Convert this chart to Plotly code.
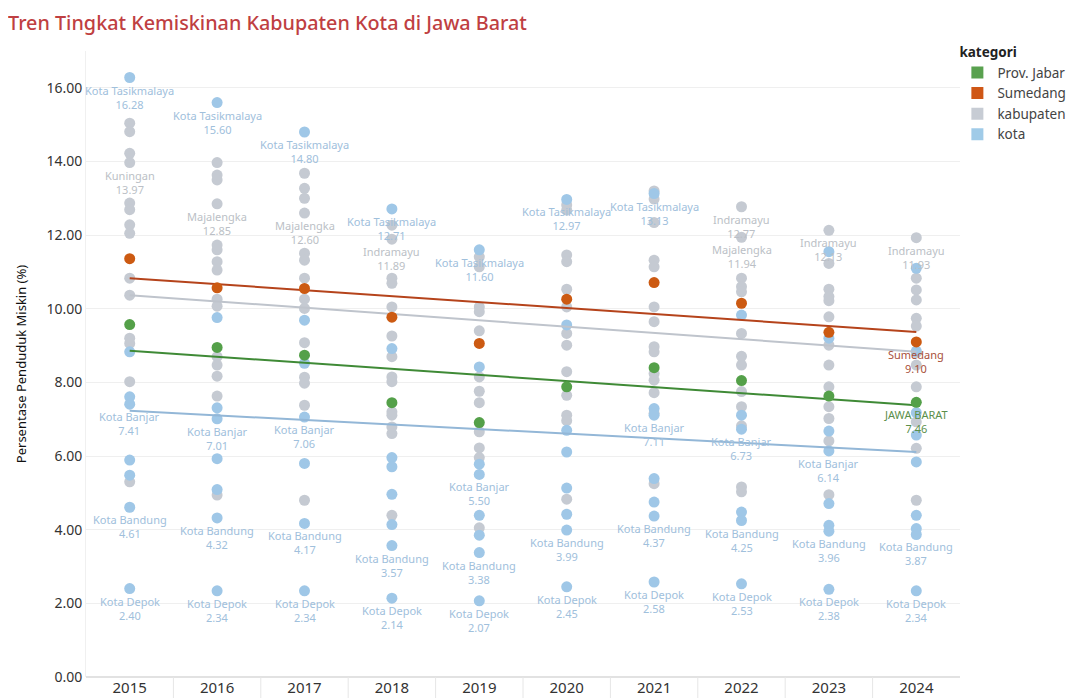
import plotly.graph_objects as go

# ---------------- data ----------------
years = [2015, 2016, 2017, 2018, 2019, 2020, 2021, 2022, 2023, 2024]

kabupaten_values = [
    [15.04, 14.81, 14.22, 13.97, 12.87, 12.69, 12.28, 12.05, 10.83, 10.37, 9.20, 9.06, 8.02, 5.30],
    [13.97, 13.63, 13.50, 12.85, 11.73, 11.60, 11.28, 11.05, 10.26, 10.07, 8.70, 8.47, 8.17, 7.63, 4.94],
    [13.68, 13.27, 13.00, 12.60, 11.51, 11.32, 10.83, 10.26, 10.01, 9.08, 8.14, 7.98, 7.38, 4.80],
    [12.27, 11.89, 10.83, 10.69, 10.05, 9.26, 8.70, 8.15, 8.02, 7.20, 7.11, 6.79, 6.61, 4.39],
    [11.41, 11.14, 10.05, 9.92, 9.40, 8.15, 7.76, 7.45, 6.66, 6.22, 5.96, 4.05],
    [12.82, 12.68, 11.46, 11.28, 10.53, 10.05, 9.33, 9.01, 8.29, 7.65, 7.11, 6.96, 4.83],
    [13.20, 12.98, 12.34, 11.32, 11.14, 10.05, 9.65, 8.97, 8.83, 8.24, 8.06, 7.72, 7.16, 5.25],
    [12.77, 11.94, 10.83, 10.60, 10.46, 9.33, 8.71, 8.47, 7.75, 7.34, 6.82, 5.16, 5.03],
    [12.13, 11.23, 10.53, 10.33, 10.22, 9.78, 9.01, 8.47, 7.88, 7.34, 7.02, 6.41, 4.95],
    [11.93, 10.83, 10.51, 10.24, 9.74, 9.53, 8.80, 8.47, 7.88, 6.93, 6.21, 4.80],
]

kota_values = [
    [16.28, 8.83, 7.61, 7.41, 5.89, 5.48, 4.61, 2.40],
    [15.60, 9.76, 7.31, 7.01, 5.93, 5.09, 4.32, 2.34],
    [14.80, 9.69, 8.52, 7.06, 5.80, 4.17, 2.34],
    [12.71, 8.92, 5.96, 5.71, 4.96, 4.14, 3.57, 2.14],
    [11.60, 8.42, 5.78, 5.50, 4.39, 3.85, 3.38, 2.07],
    [12.97, 9.56, 6.70, 6.11, 5.13, 4.42, 3.99, 2.45],
    [13.13, 7.29, 7.11, 5.39, 4.75, 4.37, 2.58],
    [9.83, 7.11, 6.73, 4.48, 4.25, 2.53],
    [11.55, 9.20, 6.68, 6.14, 4.71, 4.12, 3.96, 2.38],
    [11.10, 8.85, 7.18, 6.57, 5.84, 4.39, 4.03, 3.87, 2.34],
]

sumedang_values = [11.36, 10.57, 10.55, 9.77, 9.06, 10.26, 10.71, 10.15, 9.36, 9.10]
jabar_values = [9.57, 8.95, 8.74, 7.45, 6.91, 7.88, 8.40, 8.05, 7.63, 7.46]

# linear trend lines (value at first and last year)
trend_categories = ["Prov. Jabar", "Sumedang", "kabupaten", "kota"]
trend_start = [8.86, 10.83, 10.37, 7.23]
trend_end = [7.38, 9.37, 8.83, 6.11]

# mark labels
label_years = [2015, 2015, 2015, 2015, 2015,
               2016, 2016, 2016, 2016, 2016,
               2017, 2017, 2017, 2017, 2017,
               2018, 2018, 2018, 2018,
               2019, 2019, 2019, 2019,
               2020, 2020, 2020,
               2021, 2021, 2021, 2021,
               2022, 2022, 2022, 2022, 2022,
               2023, 2023, 2023, 2023,
               2024, 2024, 2024, 2024, 2024]
label_names = ["Kota Tasikmalaya", "Kuningan", "Kota Banjar", "Kota Bandung", "Kota Depok",
               "Kota Tasikmalaya", "Majalengka", "Kota Banjar", "Kota Bandung", "Kota Depok",
               "Kota Tasikmalaya", "Majalengka", "Kota Banjar", "Kota Bandung", "Kota Depok",
               "Kota Tasikmalaya", "Indramayu", "Kota Bandung", "Kota Depok",
               "Kota Tasikmalaya", "Kota Banjar", "Kota Bandung", "Kota Depok",
               "Kota Tasikmalaya", "Kota Bandung", "Kota Depok",
               "Kota Tasikmalaya", "Kota Banjar", "Kota Bandung", "Kota Depok",
               "Indramayu", "Majalengka", "Kota Banjar", "Kota Bandung", "Kota Depok",
               "Indramayu", "Kota Banjar", "Kota Bandung", "Kota Depok",
               "Indramayu", "Sumedang", "JAWA BARAT", "Kota Bandung", "Kota Depok"]
label_values = [16.28, 13.97, 7.41, 4.61, 2.40,
                15.60, 12.85, 7.01, 4.32, 2.34,
                14.80, 12.60, 7.06, 4.17, 2.34,
                12.71, 11.89, 3.57, 2.14,
                11.60, 5.50, 3.38, 2.07,
                12.97, 3.99, 2.45,
                13.13, 7.11, 4.37, 2.58,
                12.77, 11.94, 6.73, 4.25, 2.53,
                12.13, 6.14, 3.96, 2.38,
                11.93, 9.10, 7.46, 3.87, 2.34]
label_groups = ["kota", "kabupaten", "kota", "kota", "kota",
                "kota", "kabupaten", "kota", "kota", "kota",
                "kota", "kabupaten", "kota", "kota", "kota",
                "kota", "kabupaten", "kota", "kota",
                "kota", "kota", "kota", "kota",
                "kota", "kota", "kota",
                "kota", "kota", "kota", "kota",
                "kabupaten", "kabupaten", "kota", "kota", "kota",
                "kabupaten", "kota", "kota", "kota",
                "kabupaten", "Sumedang", "Prov. Jabar", "kota", "kota"]

# ---------------- styles ----------------
dot_colors = {"Prov. Jabar": "#54a049", "Sumedang": "#cc5a12",
              "kabupaten": "#c5cad2", "kota": "#9fc7e7"}
legend_colors = {"Prov. Jabar": "#59a14f", "Sumedang": "#cf5716",
                 "kabupaten": "#c7ccd4", "kota": "#a0cbe8"}
trend_colors = {"Prov. Jabar": "#3f8a36", "Sumedang": "#b5431b",
                "kabupaten": "#bfc4cc", "kota": "#93b7d7"}
label_colors = {"Prov. Jabar": "#5b8f4b", "Sumedang": "#a8503a",
                "kabupaten": "#bbbfc6", "kota": "#a0c0dc"}
FONT = "Noto Sans"
MS = 11

fig = go.Figure()


def flat(vals):
    xs, ys = [], []
    for yr, vs in zip(years, vals):
        for v in vs:
            xs.append(yr)
            ys.append(v)
    return xs, ys


kx, ky = flat(kabupaten_values)
cx, cy = flat(kota_values)

fig.add_trace(go.Scatter(x=kx, y=ky, mode="markers", showlegend=False,
                         marker=dict(size=MS, color=dot_colors["kabupaten"]), hoverinfo="skip"))
fig.add_trace(go.Scatter(x=cx, y=cy, mode="markers", showlegend=False,
                         marker=dict(size=MS, color=dot_colors["kota"]), hoverinfo="skip"))

# trend lines
for cat, s, e in zip(trend_categories, trend_start, trend_end):
    fig.add_trace(go.Scatter(x=[years[0], years[-1]], y=[s, e], mode="lines", showlegend=False,
                             line=dict(color=trend_colors[cat], width=2), hoverinfo="skip"))

fig.add_trace(go.Scatter(x=years, y=sumedang_values, mode="markers", showlegend=False,
                         marker=dict(size=MS, color=dot_colors["Sumedang"]), hoverinfo="skip"))
fig.add_trace(go.Scatter(x=years, y=jabar_values, mode="markers", showlegend=False,
                         marker=dict(size=MS, color=dot_colors["Prov. Jabar"]), hoverinfo="skip"))

# legend entries (square swatches)
for cat in ["Prov. Jabar", "Sumedang", "kabupaten", "kota"]:
    fig.add_trace(go.Scatter(x=[None], y=[None], mode="markers", name=cat,
                             marker=dict(symbol="square", size=13, color=legend_colors[cat])))

# labels
for yr, nm, v, g in zip(label_years, label_names, label_values, label_groups):
    fig.add_annotation(x=yr, y=v, text=f"{nm}<br>{v:.2f}", showarrow=False,
                       yanchor="top", yshift=-3, xanchor="center",
                       font=dict(family=FONT, size=11, color=label_colors[g]))

# year band separators below the axis
for a, b in zip(years[:-1], years[1:]):
    fig.add_shape(type="line", xref="x", yref="paper", x0=(a + b) / 2, x1=(a + b) / 2,
                  y0=0, y1=-0.035, line=dict(color="#e6e6e6", width=1))

# the page body adds an 8px offset, so the figure is 8px smaller than the window
fig.update_layout(
    width=1069, height=690,
    margin=dict(l=78, r=117, t=43, b=21, autoexpand=False),
    paper_bgcolor="white", plot_bgcolor="white",
    font=dict(family=FONT, color="#333"),
    title=dict(text="Tren Tingkat Kemiskinan Kabupaten Kota di Jawa Barat",
               x=0.0, xanchor="left", y=0.978, yanchor="middle",
               font=dict(family=FONT, size=19.8, color="#bf3f42", weight=500)),
    legend=dict(title=dict(text="<b>kategori</b>", font=dict(family=FONT, size=13.5, color="#222")),
                x=0.997, xanchor="left", y=1.018, yanchor="top",
                font=dict(family=FONT, size=13.5, color="#444"),
                itemsizing="constant", tracegroupgap=0, bgcolor="rgba(0,0,0,0)",
                itemwidth=30),
    xaxis=dict(range=[years[0] - 0.5, years[-1] + 0.5], tickmode="array", tickvals=years,
               ticktext=[str(y) for y in years], showgrid=False, zeroline=False,
               showline=False, ticks="", tickfont=dict(family=FONT, size=15, color="#333")),
    yaxis=dict(range=[0, 17.0], tickmode="array", tickvals=[0, 2, 4, 6, 8, 10, 12, 14, 16],
               tickformat=".2f", showgrid=True, gridcolor="#efefef", gridwidth=1,
               zeroline=True, zerolinecolor="#e2e2e2", showline=True, linecolor="#f0f0f0",
               ticks="", tickfont=dict(family=FONT, size=14, color="#333"),
               title=dict(text="Persentase Penduduk Miskin (%)",
                          font=dict(family=FONT, size=13, color="#111"), standoff=16)),
    hovermode=False,
)

fig.write_html("out.html")
